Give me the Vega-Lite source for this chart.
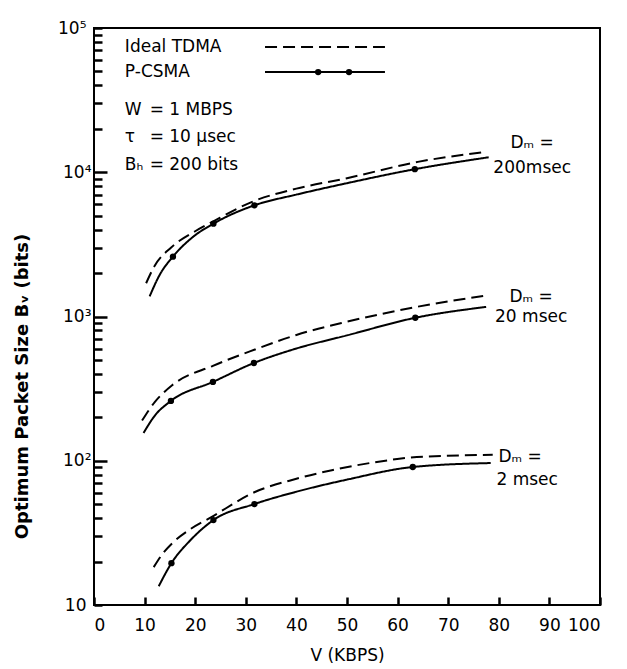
{
  "$schema": "https://vega.github.io/schema/vega-lite/v6.json",
  "width": 506,
  "height": 577,
  "autosize": {"type": "none"},
  "padding": {"left": 94, "top": 28, "right": 27, "bottom": 64},
  "background": "white",
  "config": {
    "font": "DejaVu Sans",
    "view": {"stroke": "black", "strokeWidth": 2},
    "axis": {"grid": false, "domain": false, "ticks": true, "tickColor": "black", "tickWidth": 2.5, "labelColor": "black", "titleColor": "black", "labelFontSize": 17, "titleFontSize": 17, "titleFontWeight": "normal"}
  },
  "datasets": {
    "curves": [
      {"curve": "T200", "series": "Ideal TDMA", "v": 10.3, "b": 1700},
      {"curve": "T200", "series": "Ideal TDMA", "v": 12, "b": 2250},
      {"curve": "T200", "series": "Ideal TDMA", "v": 15.2, "b": 3000},
      {"curve": "T200", "series": "Ideal TDMA", "v": 20, "b": 3900},
      {"curve": "T200", "series": "Ideal TDMA", "v": 23.5, "b": 4550},
      {"curve": "T200", "series": "Ideal TDMA", "v": 31.8, "b": 6350},
      {"curve": "T200", "series": "Ideal TDMA", "v": 40, "b": 7700},
      {"curve": "T200", "series": "Ideal TDMA", "v": 50, "b": 9100},
      {"curve": "T200", "series": "Ideal TDMA", "v": 64, "b": 11800},
      {"curve": "T200", "series": "Ideal TDMA", "v": 77, "b": 13800},
      {"curve": "C200", "series": "P-CSMA", "v": 11, "b": 1380},
      {"curve": "C200", "series": "P-CSMA", "v": 13, "b": 1950},
      {"curve": "C200", "series": "P-CSMA", "v": 15.6, "b": 2600},
      {"curve": "C200", "series": "P-CSMA", "v": 19.5, "b": 3550},
      {"curve": "C200", "series": "P-CSMA", "v": 23.6, "b": 4400},
      {"curve": "C200", "series": "P-CSMA", "v": 31.7, "b": 5900},
      {"curve": "C200", "series": "P-CSMA", "v": 40, "b": 7000},
      {"curve": "C200", "series": "P-CSMA", "v": 50, "b": 8400},
      {"curve": "C200", "series": "P-CSMA", "v": 63.4, "b": 10500},
      {"curve": "C200", "series": "P-CSMA", "v": 78, "b": 12700},
      {"curve": "T20", "series": "Ideal TDMA", "v": 9.5, "b": 190},
      {"curve": "T20", "series": "Ideal TDMA", "v": 12, "b": 255},
      {"curve": "T20", "series": "Ideal TDMA", "v": 15.5, "b": 335},
      {"curve": "T20", "series": "Ideal TDMA", "v": 23.5, "b": 455},
      {"curve": "T20", "series": "Ideal TDMA", "v": 31.8, "b": 590},
      {"curve": "T20", "series": "Ideal TDMA", "v": 40, "b": 745},
      {"curve": "T20", "series": "Ideal TDMA", "v": 50, "b": 920},
      {"curve": "T20", "series": "Ideal TDMA", "v": 64, "b": 1170},
      {"curve": "T20", "series": "Ideal TDMA", "v": 77, "b": 1390},
      {"curve": "C20", "series": "P-CSMA", "v": 9.8, "b": 156},
      {"curve": "C20", "series": "P-CSMA", "v": 12, "b": 205},
      {"curve": "C20", "series": "P-CSMA", "v": 15.2, "b": 260},
      {"curve": "C20", "series": "P-CSMA", "v": 23.5, "b": 352},
      {"curve": "C20", "series": "P-CSMA", "v": 31.6, "b": 476},
      {"curve": "C20", "series": "P-CSMA", "v": 40, "b": 600},
      {"curve": "C20", "series": "P-CSMA", "v": 50, "b": 740},
      {"curve": "C20", "series": "P-CSMA", "v": 63.5, "b": 980},
      {"curve": "C20", "series": "P-CSMA", "v": 77.5, "b": 1165},
      {"curve": "T2", "series": "Ideal TDMA", "v": 11.8, "b": 18.3},
      {"curve": "T2", "series": "Ideal TDMA", "v": 13.5, "b": 22.5},
      {"curve": "T2", "series": "Ideal TDMA", "v": 15.7, "b": 27.3},
      {"curve": "T2", "series": "Ideal TDMA", "v": 19, "b": 33.5},
      {"curve": "T2", "series": "Ideal TDMA", "v": 23.2, "b": 40.7},
      {"curve": "T2", "series": "Ideal TDMA", "v": 31.8, "b": 60.7},
      {"curve": "T2", "series": "Ideal TDMA", "v": 40, "b": 75},
      {"curve": "T2", "series": "Ideal TDMA", "v": 47, "b": 86},
      {"curve": "T2", "series": "Ideal TDMA", "v": 55, "b": 97},
      {"curve": "T2", "series": "Ideal TDMA", "v": 63.8, "b": 106},
      {"curve": "T2", "series": "Ideal TDMA", "v": 78.8, "b": 110},
      {"curve": "C2", "series": "P-CSMA", "v": 12.8, "b": 13.5},
      {"curve": "C2", "series": "P-CSMA", "v": 15.3, "b": 19.5},
      {"curve": "C2", "series": "P-CSMA", "v": 19, "b": 28},
      {"curve": "C2", "series": "P-CSMA", "v": 23.6, "b": 38.8},
      {"curve": "C2", "series": "P-CSMA", "v": 31.7, "b": 50.1},
      {"curve": "C2", "series": "P-CSMA", "v": 40, "b": 61},
      {"curve": "C2", "series": "P-CSMA", "v": 50, "b": 74},
      {"curve": "C2", "series": "P-CSMA", "v": 63, "b": 90.5},
      {"curve": "C2", "series": "P-CSMA", "v": 78.4, "b": 96.4}
    ],
    "dots": [
      {"v": 15.6, "b": 2600}, {"v": 23.6, "b": 4400}, {"v": 31.7, "b": 5900}, {"v": 63.4, "b": 10500},
      {"v": 15.2, "b": 260}, {"v": 23.5, "b": 352}, {"v": 31.6, "b": 476}, {"v": 63.5, "b": 980},
      {"v": 15.3, "b": 19.5}, {"v": 23.6, "b": 38.8}, {"v": 31.7, "b": 50.1}, {"v": 63, "b": 90.5},
      {"v": 44.3, "b": 49500}, {"v": 50.4, "b": 49500}
    ],
    "legendLines": [
      {"curve": "LT", "series": "Ideal TDMA", "v": 33.8, "b": 73800},
      {"curve": "LT", "series": "Ideal TDMA", "v": 57.5, "b": 73800},
      {"curve": "LC", "series": "P-CSMA", "v": 33.8, "b": 49500},
      {"curve": "LC", "series": "P-CSMA", "v": 57.5, "b": 49500}
    ],
    "legendText": [
      {"text": "Ideal TDMA", "v": 6.1, "b": 73800},
      {"text": "P-CSMA", "v": 6.1, "b": 49500},
      {"text": "W", "v": 6.1, "b": 27000},
      {"text": "τ", "v": 6.1, "b": 17550},
      {"text": "Bₕ", "v": 6.1, "b": 11220},
      {"text": "= 1 MBPS", "v": 11, "b": 27000},
      {"text": "= 10 μsec", "v": 11, "b": 17550},
      {"text": "= 200 bits", "v": 11, "b": 11220}
    ],
    "curveLabels": [
      {"text": "Dₘ =", "v": 86.6, "b": 15950},
      {"text": "200msec", "v": 86.6, "b": 10700},
      {"text": "Dₘ =", "v": 86.4, "b": 1365},
      {"text": "20 msec", "v": 86.4, "b": 993},
      {"text": "Dₘ =", "v": 84.2, "b": 106},
      {"text": "2 msec", "v": 85.6, "b": 73.6}
    ]
  },
  "layer": [
    {
      "data": {"name": "curves"},
      "mark": {"type": "line", "interpolate": "monotone", "color": "black", "strokeWidth": 2},
      "encoding": {
        "x": {
          "field": "v", "type": "quantitative",
          "scale": {"domain": [0, 100], "nice": false, "zero": false},
          "axis": {"values": [0, 10, 20, 30, 40, 50, 60, 70, 80, 90, 100], "tickSize": -8, "labelPadding": 20, "title": "V (KBPS)", "titlePadding": 14}
        },
        "y": {
          "field": "b", "type": "quantitative",
          "scale": {"type": "log", "domain": [10, 100000], "nice": false},
          "axis": {
            "values": [10, 20, 30, 40, 50, 60, 70, 80, 90, 100, 200, 300, 400, 500, 600, 700, 800, 900, 1000, 2000, 3000, 4000, 5000, 6000, 7000, 8000, 9000, 10000, 20000, 30000, 40000, 50000, 60000, 70000, 80000, 90000, 100000],
            "labelExpr": "datum.value == 10 ? '10' : datum.value == 100 ? '10²' : datum.value == 1000 ? '10³' : datum.value == 10000 ? '10⁴' : datum.value == 100000 ? '10⁵' : ''",
            "tickSize": {"condition": {"test": "indexof([100,1000,10000], datum.value) >= 0", "value": -13}, "value": -8},
            "labelPadding": 16,
            "title": "Optimum Packet Size Bᵥ (bits)",
            "titleFontSize": 18,
            "titleFontWeight": "bold",
            "titleAngle": -90,
            "titleX": -72,
            "titleY": 358,
            "titleAlign": "center",
            "titleBaseline": "middle"
          }
        },
        "detail": {"field": "curve"},
        "strokeDash": {"field": "series", "type": "nominal", "scale": {"domain": ["Ideal TDMA", "P-CSMA"], "range": [[12, 6], [1, 0]]}, "legend": null}
      }
    },
    {
      "data": {"name": "legendLines"},
      "mark": {"type": "line", "color": "black", "strokeWidth": 2},
      "encoding": {
        "x": {"field": "v", "type": "quantitative"},
        "y": {"field": "b", "type": "quantitative"},
        "detail": {"field": "curve"},
        "strokeDash": {"field": "series", "type": "nominal", "legend": null}
      }
    },
    {
      "data": {"name": "dots"},
      "mark": {"type": "circle", "color": "black", "opacity": 1, "size": 40},
      "encoding": {
        "x": {"field": "v", "type": "quantitative"},
        "y": {"field": "b", "type": "quantitative"}
      }
    },
    {
      "data": {"name": "legendText"},
      "mark": {"type": "text", "align": "left", "baseline": "middle", "fontSize": 17, "color": "black"},
      "encoding": {
        "x": {"field": "v", "type": "quantitative"},
        "y": {"field": "b", "type": "quantitative"},
        "text": {"field": "text"}
      }
    },
    {
      "data": {"name": "curveLabels"},
      "mark": {"type": "text", "align": "center", "baseline": "middle", "fontSize": 17, "color": "black"},
      "encoding": {
        "x": {"field": "v", "type": "quantitative"},
        "y": {"field": "b", "type": "quantitative"},
        "text": {"field": "text"}
      }
    }
  ]
}
